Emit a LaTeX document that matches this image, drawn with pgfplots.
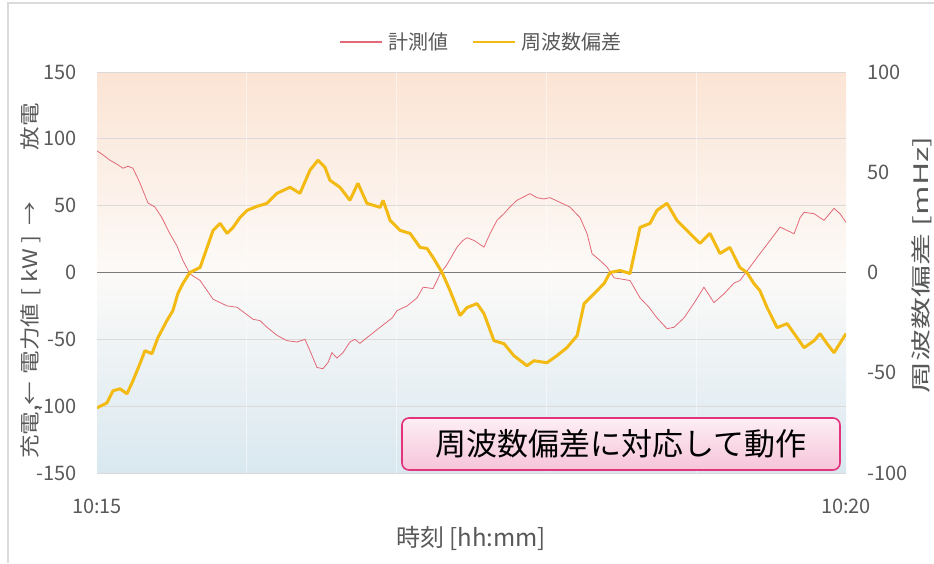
\documentclass[border=0pt]{standalone}
\usepackage{fontspec}
\setmainfont{Noto Sans CJK JP}
\usepackage{graphicx}
\usepackage{pgfplots}
\pgfplotsset{compat=1.18}
\definecolor{redl}{HTML}{E26A78}
\definecolor{yel}{HTML}{F2BA12}
\definecolor{tickgray}{HTML}{595959}
\definecolor{gridgray}{HTML}{DCDAD8}
\definecolor{zerogray}{HTML}{7A7A7A}
\definecolor{bgtop}{HTML}{FBE4D4}
\definecolor{bgmid}{HTML}{FCFAF8}
\definecolor{bgbot}{HTML}{D9E8F0}
\definecolor{framegray}{HTML}{DADADA}
\definecolor{boxborder}{HTML}{E2337C}
\definecolor{boxtop}{HTML}{FDEEF4}
\definecolor{boxbot}{HTML}{F6C4D9}
\begin{document}
\begin{tikzpicture}
\fill[white] (0pt,0pt) rectangle (934pt,563pt);
\draw[framegray, line width=1.5pt] (8pt,0pt) -- (8pt,560pt) -- (934pt,560pt);

\begin{axis}[
  at={(97pt,90pt)}, anchor=south west,
  width=749pt, height=401pt, scale only axis,
  xmin=0, xmax=300, ymin=-150, ymax=150,
  axis background/.style={top color=bgtop, bottom color=bgbot, middle color=bgmid},
  axis line style={draw=none},
  major tick length=0pt, minor tick length=0pt,
  ytick={-150,-100,...,150},
  xtick={0,300}, xticklabels={10:15,10:20},
  ymajorgrids, major grid style={gridgray, line width=0.9pt},
  extra x ticks={60,120,180,240}, extra x tick labels={},
  extra x tick style={grid=major, major grid style={white, opacity=0.5, line width=1pt}},
  /pgf/number format/assume math mode=true,
  tick label style={font=\fontsize{20}{24}\selectfont, text=tickgray},
  yticklabel style={anchor=east, inner sep=0pt, xshift=-20pt},
  xticklabel style={inner sep=0pt, yshift=-26pt},
]
\draw[zerogray, line width=1.6pt] (axis cs:0,0) -- (axis cs:300,0);
\addplot[redl, line width=0.8pt] coordinates {
(0,91)(2.4,88)(5.2,84)(8,81)(10.4,78)(12.4,79.5)(14.4,78)(17.2,67)(20.4,52)(23.2,49)(26,41)(29.2,29)(32,20)(34.4,9)(37.2,-1)(41.3,-6)(46.5,-20)(52.1,-25)(56.1,-26)(62.5,-35)(65.3,-36)(68.1,-41)(72.1,-47)(76.1,-51)(80.1,-52)(83.3,-50)(85.3,-58.5)(88.1,-71)(90.5,-72)(92.5,-67.5)(94.1,-60)(96.1,-64)(98.5,-60)(101.3,-52)(103.3,-50)(105.3,-53)(109.3,-47)(113.4,-41)(118.2,-34)(120.2,-28.5)(124.2,-25)(128.2,-19)(130.6,-11)(134.6,-12)(136.2,-6)(137.4,-1)(140.2,6)(144.2,19)(146.6,24)(148.2,26)(151,24)(155,19)(157.4,29)(160.2,39)(163,44)(165.4,49)(168.2,54)(173.4,59)(176.2,56)(179,55)(181.4,56)(185.4,52.5)(189.4,49)(193.5,41)(196.3,29)(198.3,14)(201.5,9)(204.3,4)(207.1,-4)(213.5,-6)(217.5,-19)(221.1,-26)(224.3,-34)(228.3,-42)(231.1,-41)(235.1,-34)(239.1,-23)(243.1,-11)(247.1,-22.5)(251.1,-16)(255.1,-8)(257.5,-6)(261.5,4)(265.5,14)(269.6,24)(273.6,34)(276.4,31.5)(279.2,29)(281.6,41)(283.2,45)(287.2,44)(291.2,39)(295.2,48)(297.6,44)(300,37.5)
};
\end{axis}

\begin{axis}[
  at={(97pt,90pt)}, anchor=south west,
  width=749pt, height=401pt, scale only axis,
  xmin=0, xmax=300, ymin=-100, ymax=100,
  axis y line*=right, axis x line=none,
  axis line style={draw=none},
  major tick length=0pt,
  ytick={-100,-50,...,100},
  /pgf/number format/assume math mode=true,
  tick label style={font=\fontsize{20}{24}\selectfont, text=tickgray},
  yticklabel style={anchor=west, inner sep=0pt, xshift=21pt},
  legend style={at={(0.5,1)}, anchor=center, yshift=30pt, xshift=10pt,
    draw=none, fill=none, font=\fontsize{20}{22}\selectfont, text=tickgray,
    /tikz/every even column/.append style={column sep=22pt}},
  legend columns=2,
  legend image code/.code={\draw[#1] (0pt,0pt) -- (42pt,0pt); \path (46pt,0pt);},
]
\addlegendimage{redl, line width=1.2pt}
\addlegendentry{計測値}
\addlegendimage{yel, line width=1.4pt}
\addlegendentry{周波数偏差}
\addplot[yel, line width=3pt, line join=bevel, forget plot] coordinates {
(0,-67.5)(4,-65)(6.4,-59)(9.2,-58)(12,-60.5)(14.4,-54)(17.2,-45.5)(19.2,-39)(22,-40.5)(24.4,-32.5)(28,-24)(30.4,-19)(32.4,-10.5)(34.4,-5.5)(37.2,0)(41.3,2.5)(44.1,12.5)(46.5,21)(49.3,24.5)(52.1,19.5)(54.5,22.5)(57.3,27.5)(60.1,31)(64.1,33)(68.1,34.5)(72.1,39.5)(77.3,42.5)(81.3,39.5)(85.3,51)(88.5,56)(91.3,52.5)(93.3,46)(97.3,42.5)(101.3,36)(104.5,44.5)(108.1,34.5)(113.4,32.5)(114.6,36)(117.4,26)(121.4,21)(125.4,19.5)(129.4,12.5)(132.2,12)(134.6,7.5)(138.2,0)(141.4,-9)(145.4,-21.5)(148.2,-17.5)(152.2,-15.5)(155,-20.5)(159,-34)(163,-35.5)(167,-41.5)(172.2,-46.5)(175,-44)(180.2,-45)(184.2,-41.5)(188.2,-37.5)(192.3,-31.5)(195.1,-15.5)(199.1,-10.5)(203.1,-5.5)(205.5,0)(209.5,1)(213.5,-0.5)(217.5,22.5)(221.5,24.5)(224.3,31)(228.3,34.5)(232.3,26)(236.3,21)(241.5,14.5)(245.5,19.5)(249.5,9.5)(253.5,12.5)(257.5,2.5)(260.3,0)(263.1,-5.5)(265.5,-9)(268.4,-17.5)(272.4,-27.5)(276.4,-25.5)(280.4,-32.5)(283.2,-37.5)(287.2,-34)(289.6,-30.5)(292.4,-35.5)(295.2,-40)(300,-30.5)
};
\end{axis}

\node[rotate=90, font=\fontsize{20}{24}\selectfont, text=tickgray] at (31pt,282pt)
  {\scalebox{1.18}[1]{充電,←\hspace{0.3em}電力値\hspace{0.3em}[\hspace{0.25em}kW\hspace{0.25em}]\hspace{0.4em}→\hspace{2.2em}放電}};
\node[rotate=90, font=\fontsize{20}{24}\selectfont, text=tickgray] at (922pt,298pt)
  {\scalebox{1.6}[1]{周波数偏差 [mHz]}};
\node[font=\fontsize{24}{28}\selectfont, text=tickgray] at (471pt,25pt) {時刻 [hh:mm]};
\node[draw=boxborder, line width=1.6pt, rounded corners=7pt, top color=boxtop, bottom color=boxbot,
  minimum width=438pt, minimum height=52pt, inner sep=0pt, font=\fontsize{31}{34}\selectfont] at (621pt,119pt)
  {周波数偏差に対応して動作};
\pgfresetboundingbox
\useasboundingbox (0pt,0pt) rectangle (934pt,563pt);
\end{tikzpicture}
\end{document}
